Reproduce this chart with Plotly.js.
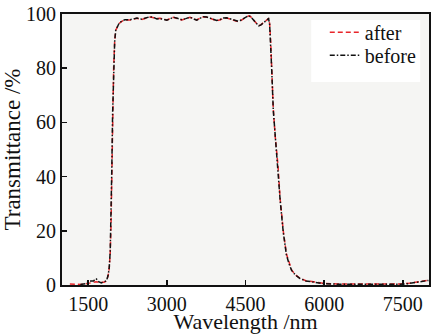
<!DOCTYPE html>
<html>
<head>
<meta charset="utf-8">
<script src="https://cdn.plot.ly/plotly-3.0.1.min.js"></script>
<style>
html,body{margin:0;padding:0;background:#fff;}
#chart{width:438px;height:334px;}
</style>
</head>
<body>
<div id="chart"></div>
<script>
const wavelength = [1150,1250,1350,1450,1500,1550,1600,1650,1700,1750,1800,1850,1880,1900,1920,1935,1950,1965,1985,2005,2025,2050,2090,2140,2200,2300,2360,2430,2520,2600,2680,2750,2810,2870,2930,3000,3060,3125,3200,3285,3360,3440,3510,3570,3640,3700,3760,3830,3900,3950,4020,4080,4140,4200,4250,4300,4360,4410,4460,4510,4560,4600,4650,4700,4750,4790,4840,4890,4940,4960,4980,5000,5030,5070,5120,5160,5220,5280,5330,5380,5450,5540,5650,5820,6000,6250,6500,6750,7000,7250,7450,7600,7700,7800,7900,7990];
const after = [0.4,0.2,0.2,0.4,0.6,0.8,1.0,1.2,1.0,0.9,1.0,1.5,3.5,6,12,22,42,62,80,90,94,95,96.5,97.3,97.8,97.8,98.2,98.4,98.0,98.5,98.9,98.6,98.3,98.4,98.1,97.8,98.3,98.8,98.3,97.8,98.3,98.8,98.3,97.8,98.6,99.0,98.9,98.4,97.8,97.5,97.9,98.4,98.5,98.2,97.9,97.5,97.2,97.6,98.1,98.8,99.3,99.0,98.0,96.8,95.7,96.0,96.6,97.5,98.4,96.5,90,80,65,54,44,32,20,11.5,8,5.5,3.8,2.5,1.6,1.0,0.6,0.4,0.4,0.3,0.3,0.3,0.4,0.6,0.9,1.2,1.5,1.8];
const before = [null,null,0.2,0.5,1.2,1.5,1.5,2.4,1.2,0.8,1.1,1.6,3.6,6.2,12.5,23,43,63,80.5,90,94,95.2,96.6,97.4,97.9,97.9,98.3,98.5,98.1,98.5,99.0,98.7,98.2,98.3,98.0,97.7,98.2,98.8,98.4,97.9,98.3,98.8,98.2,97.7,98.5,99.0,98.9,98.5,97.9,97.6,98.0,98.5,98.6,98.3,98.0,97.6,97.3,97.7,98.2,98.9,99.4,99.0,97.9,96.7,95.6,95.9,96.6,97.5,98.3,96.3,89.5,79.5,64.5,53.5,43.5,31.5,19.5,11.2,7.8,5.4,3.7,2.4,1.5,0.9,0.5,0.3,0.3,0.2,0.2,0.2,0.3,0.5,0.8,1.1,1.4,1.7];
const xTicks = [1500,3000,4500,6000,7500];
const yTicks = [0,20,40,60,80,100];

const serif = '"Liberation Serif", "DejaVu Serif", serif';
const traces = [
  {x: wavelength, y: after, name: 'after', mode: 'lines', connectgaps: false, legend: 'legend',
   line: {color: '#e8252a', width: 1.5, dash: '5px,3px'}},
  {x: wavelength, y: before, name: 'before', mode: 'lines', connectgaps: false, legend: 'legend2',
   line: {color: '#111111', width: 1.5, dash: '5px,2px,1.5px,2px'}}
];
const legendStyle = {xanchor: 'left', yanchor: 'top', bgcolor: 'rgba(0,0,0,0)',
                     borderwidth: 0, font: {family: serif, size: 20, color: '#111'}};
const layout = {
  width: 438, height: 334,
  margin: {l: 62, r: 9, t: 14, b: 49, pad: 0},
  paper_bgcolor: '#ffffff',
  plot_bgcolor: '#f5f5f3',
  font: {family: serif, color: '#111', size: 20},
  showlegend: true,
  legend: Object.assign({x: 0.716, y: 1.005}, legendStyle),
  legend2: Object.assign({x: 0.716, y: 0.920}, legendStyle),
  shapes: [{type: 'rect', xref: 'paper', yref: 'paper', x0: 0.679, x1: 0.976, y0: 0.749, y1: 0.978,
            fillcolor: '#ffffff', line: {width: 0}, layer: 'below'}],
  xaxis: {range: [1000, 8000], tickvals: xTicks, ticktext: xTicks.map(String),
          ticks: 'inside', ticklen: 5, tickwidth: 1.5, tickcolor: '#111',
          showline: true, linecolor: '#111', linewidth: 2, mirror: true,
          showgrid: false, zeroline: false,
          tickfont: {family: serif, size: 20, color: '#111'},
          title: {text: 'Wavelength /nm', font: {family: serif, size: 22, color: '#111'}, standoff: 7}},
  yaxis: {range: [0, 100], tickvals: yTicks, ticktext: yTicks.map(String),
          ticks: 'inside', ticklen: 5, tickwidth: 1.5, tickcolor: '#111',
          showline: true, linecolor: '#111', linewidth: 2, mirror: true,
          showgrid: false, zeroline: false,
          tickfont: {family: serif, size: 20, color: '#111'},
          title: {text: 'Transmittance /%', font: {family: serif, size: 23, color: '#111'}, standoff: 0}}
};
Plotly.newPlot('chart', traces, layout, {displayModeBar: false, staticPlot: true});
</script>
</body>
</html>
